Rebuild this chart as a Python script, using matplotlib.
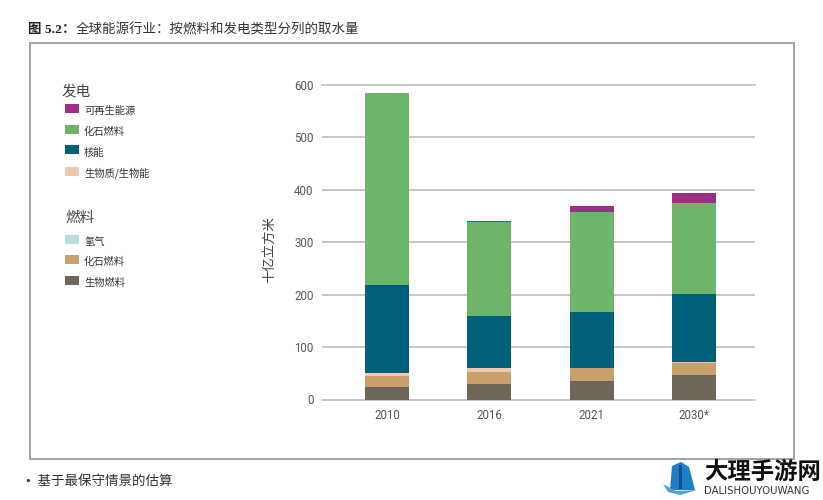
import matplotlib
matplotlib.use('Agg')
import matplotlib.pyplot as plt
from matplotlib.patches import Rectangle, Polygon

plt.rcParams['font.family'] = ['Noto Sans CJK SC', 'DejaVu Sans']

W, H = 823, 500

years = ['2010', '2016', '2021', '2030*']
yticks = [0, 100, 200, 300, 400, 500, 600]

# stacked bottom to top
biofuel = [23, 30, 36, 47.5]
fossil_fuel = [22, 23, 24, 22.5]
hydrogen = [0, 0, 0, 0]
biomass = [5, 7, 0.5, 2]
nuclear = [168, 100, 106.5, 130]
fossil_power = [366, 179, 190.5, 173.5]
renewable = [0, 1, 12.5, 18.5]

series = [biofuel, fossil_fuel, hydrogen, biomass, nuclear, fossil_power, renewable]
colors = ['#6f665a', '#c99f6c', '#b5e0de', '#eec9b0', '#00607a', '#6db56a', '#9e2f86']

power_title = '发电'
power_labels = ['可再生能源', '化石燃料', '核能', '生物质/生物能']
power_colors = ['#9e2f86', '#6db56a', '#00607a', '#eec9b0']
fuel_title = '燃料'
fuel_labels = ['氢气', '化石燃料', '生物燃料']
fuel_colors = ['#b5e0de', '#c99f6c', '#6f665a']

fig = plt.figure(figsize=(W / 100, H / 100), dpi=100)


def px_x(x):
    return x / W


def px_y(y):
    return 1 - y / H


# outer frame
fig.add_artist(Rectangle((px_x(30), px_y(459)), 764 / W, 416 / H, transform=fig.transFigure,
                         fill=False, edgecolor='#a3a3a3', linewidth=1.4))

ax = fig.add_axes([px_x(322), px_y(399.5), 433 / W, 314.5 / H])
positions = range(len(years))
bottom = [0] * len(years)
for vals, col in zip(series, colors):
    ax.bar(positions, vals, 0.43, bottom=bottom, color=col, zorder=3)
    bottom = [b + v for b, v in zip(bottom, vals)]

ax.set_xlim(-0.635, 3.596)
ax.set_ylim(0, 600)
ax.set_yticks(yticks)
ax.set_xticks(list(positions))
ax.set_xticklabels(years)
ax.yaxis.grid(True, color='#b8b8b8', linewidth=1.1, zorder=0)
ax.set_axisbelow(True)
ax.tick_params(length=0, labelsize=8.3, labelcolor='#555555')
ax.tick_params(axis='x', pad=7)
ax.tick_params(axis='y', pad=6)
for s in ax.spines.values():
    s.set_visible(False)
for lbl in ax.get_yticklabels() + ax.get_xticklabels():
    lbl.set_family(['Roboto', 'DejaVu Sans'])
ax.get_ygridlines()[0].set_clip_on(False)
ax.get_ygridlines()[-1].set_clip_on(False)

fig.text(px_x(269), px_y(250), '十亿立方米', rotation=90, ha='center', va='center',
         fontsize=9.6, color='#444444')

# legend
fig.text(px_x(62), px_y(92), power_title, fontsize=10.5, color='#444444', va='center')
for (label, col, y) in zip(power_labels, power_colors, [108.5, 129.5, 150, 171]):
    fig.add_artist(Rectangle((px_x(65), px_y(y + 4.5)), 14 / W, 9 / H, transform=fig.transFigure,
                             color=col, linewidth=0))
    fig.text(px_x(84), px_y(y + 2.5), label, fontsize=7.4, color='#333333', va='center')

fig.text(px_x(65), px_y(218), fuel_title, fontsize=10.5, color='#444444', va='center')
for (label, col, y) in zip(fuel_labels, fuel_colors, [239, 259, 280]):
    fig.add_artist(Rectangle((px_x(65), px_y(y + 4.5)), 14 / W, 9 / H, transform=fig.transFigure,
                             color=col, linewidth=0))
    fig.text(px_x(84), px_y(y + 2.5), label, fontsize=7.4, color='#333333', va='center')

# title and footnote
fig.text(px_x(28), px_y(30), '图 5.2：', fontsize=9.7, fontweight='bold', color='#222222', va='center',
         family=['Liberation Serif', 'Noto Sans CJK SC'])
fig.text(px_x(76), px_y(30), '全球能源行业：按燃料和发电类型分列的取水量', fontsize=9.7,
         color='#333333', va='center')
fig.text(px_x(26), px_y(481), '•  基于最保守情景的估算', fontsize=9.7, color='#333333', va='center',
         family=['Liberation Serif', 'Noto Sans CJK SC'])

# watermark
fig.add_artist(Polygon([(px_x(672), px_y(466)), (px_x(681), px_y(462)), (px_x(689), px_y(467)),
                        (px_x(695), px_y(490)), (px_x(670), px_y(490))],
                       transform=fig.transFigure, color='#1d7fc4', linewidth=0))
fig.add_artist(Rectangle((px_x(679), px_y(489)), 3 / W, 24 / H, transform=fig.transFigure,
                         color='#0d4f8a', linewidth=0))
fig.add_artist(Polygon([(px_x(663), px_y(484)), (px_x(676), px_y(491)), (px_x(697), px_y(490)),
                        (px_x(680), px_y(495)), (px_x(668), px_y(492))],
                       transform=fig.transFigure, color='#4fa3d8', linewidth=0))
fig.text(px_x(704), px_y(472), '大理手游网', fontsize=16.8, fontweight='bold', color='#111111', va='center')
fig.text(px_x(704), px_y(491), 'DALISHOUYOUWANG', fontsize=7.3, color='#333333', va='center',
         family=['DejaVu Sans'])

fig.savefig('out.png', dpi=100)
